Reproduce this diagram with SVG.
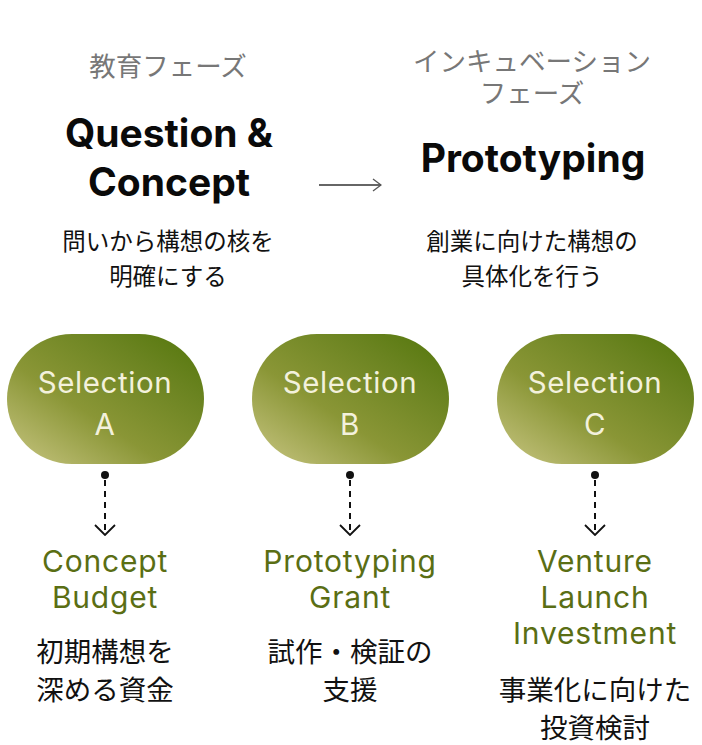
<svg xmlns="http://www.w3.org/2000/svg" width="702" height="745" viewBox="0 0 702 745">
<defs>
<linearGradient id="pill" x1="0" y1="1" x2="1" y2="0">
<stop offset="0" stop-color="#c9c683"/>
<stop offset="0.4" stop-color="#8a9636"/>
<stop offset="0.75" stop-color="#6a8320"/>
<stop offset="1" stop-color="#52760a"/>
</linearGradient>
<marker id="chev" viewBox="0 0 12 22" refX="11" refY="11" markerWidth="12" markerHeight="22" markerUnits="userSpaceOnUse" orient="auto">
<path d="M1,1 L11,11 L1,21" fill="none" stroke="#111" stroke-width="1.8"/>
</marker>
<marker id="chev2" viewBox="0 0 10 14" refX="9" refY="7" markerWidth="10" markerHeight="14" markerUnits="userSpaceOnUse" orient="auto">
<path d="M1,1 L9,7 L1,13" fill="none" stroke="#555" stroke-width="1.3"/>
</marker>
</defs>
<style>
text{text-anchor:middle;font-family:Inter,"Noto Sans CJK JP",sans-serif}
.phase{font-size:26.5px;fill:#777;font-family:"Noto Sans CJK JP",sans-serif}
.title{font-size:39px;font-weight:700;fill:#0a0a0a}
.sub{font-size:23.5px;fill:#111;font-family:"Noto Sans CJK JP",sans-serif}
.sel{font-size:29.5px;fill:#f3f1dc;letter-spacing:0.6px}
.lbl{font-size:30px;fill:#5a6e14;letter-spacing:0.8px}
.jp{font-size:27.5px;fill:#111;font-family:"Noto Sans CJK JP",sans-serif}
</style>
<rect width="702" height="745" fill="#fff"/>
<g id="phase-education">
<text class="phase" x="168" y="76">教育フェーズ</text>
<text class="title" x="169" y="147">Question &amp;</text>
<text class="title" x="169" y="196">Concept</text>
<text class="sub" x="168" y="250">問いから構想の核を</text>
<text class="sub" x="168" y="285">明確にする</text>
</g>
<g id="phase-incubation">
<text class="phase" x="532" y="71">インキュベーション</text>
<text class="phase" x="532" y="103">フェーズ</text>
<text class="title" x="533" y="172">Prototyping</text>
<text class="sub" x="532" y="250">創業に向けた構想の</text>
<text class="sub" x="532" y="285">具体化を行う</text>
</g>
<g id="sel-a">
<rect x="7" y="334" width="197" height="130" rx="65" fill="url(#pill)"/>
<text class="sel" x="105" y="393">Selection</text>
<text class="sel" x="105" y="435">A</text>
</g>
<g id="sel-b">
<rect x="252" y="334" width="197" height="130" rx="65" fill="url(#pill)"/>
<text class="sel" x="350" y="393">Selection</text>
<text class="sel" x="350" y="435">B</text>
</g>
<g id="sel-c">
<rect x="497" y="334" width="197" height="130" rx="65" fill="url(#pill)"/>
<text class="sel" x="595" y="393">Selection</text>
<text class="sel" x="595" y="435">C</text>
</g>
<g id="fund-a">
<text class="lbl" x="105" y="572">Concept</text>
<text class="lbl" x="105" y="608">Budget</text>
<text class="jp" x="105" y="662">初期構想を</text>
<text class="jp" x="105" y="700">深める資金</text>
</g>
<g id="fund-b">
<text class="lbl" x="350" y="572">Prototyping</text>
<text class="lbl" x="350" y="608">Grant</text>
<text class="jp" x="350" y="662">試作・検証の</text>
<text class="jp" x="350" y="700">支援</text>
</g>
<g id="fund-c">
<text class="lbl" x="595" y="572">Venture</text>
<text class="lbl" x="595" y="608">Launch</text>
<text class="lbl" x="595" y="644">Investment</text>
<text class="jp" x="595" y="700">事業化に向けた</text>
<text class="jp" x="595" y="738">投資検討</text>
</g>
<g id="connectors">
<line x1="319" y1="185" x2="381" y2="185" stroke="#666" stroke-width="2" marker-end="url(#chev2)"/>
<g fill="#111">
<circle cx="105" cy="475" r="4"/>
<circle cx="350" cy="475" r="4"/>
<circle cx="595" cy="475" r="4"/>
</g>
<g stroke="#111" stroke-width="2" stroke-dasharray="6,5" fill="none">
<line x1="105" y1="480" x2="105" y2="535" marker-end="url(#chev)"/>
<line x1="350" y1="480" x2="350" y2="535" marker-end="url(#chev)"/>
<line x1="595" y1="480" x2="595" y2="535" marker-end="url(#chev)"/>
</g>
</g>
</svg>
